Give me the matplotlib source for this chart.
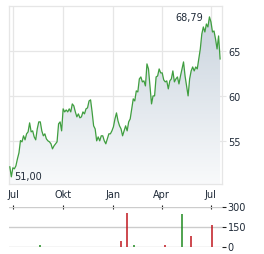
import matplotlib
matplotlib.use("Agg")
import matplotlib.pyplot as plt
import matplotlib.dates as mdates
import numpy as np
import pandas as pd

# closing prices (late Jun 2024 .. mid Jul 2025)
prices = [
    52.11, 51.00, 52.00, 51.89, 52.22, 53.00, 53.67, 55.03, 54.89, 55.56,
    55.11, 55.78, 56.00, 57.00, 56.00, 56.11, 55.44, 55.11, 56.33, 57.11,
    57.11, 56.11, 55.56, 55.78, 55.22, 55.00, 54.89, 54.67, 54.11, 54.44,
    54.67, 54.89, 56.89, 57.11, 56.11, 58.56, 58.22, 58.44, 58.22, 58.56,
    58.22, 59.11, 58.89, 58.22, 57.67, 58.00, 57.56, 57.67, 58.22, 58.00,
    58.56, 58.67, 59.44, 59.56, 58.22, 56.67, 56.33, 55.00, 55.44, 55.00,
    55.56, 55.56, 55.00, 54.67, 55.22, 55.78, 55.78, 56.11, 56.56, 57.44,
    58.11, 57.22, 56.67, 56.33, 55.56, 56.11, 56.67, 56.11, 57.11, 57.44,
    58.56, 59.67, 59.44, 60.56, 60.44, 61.89, 62.11, 61.56, 61.67, 61.11,
    63.56, 63.00, 61.11, 59.11, 60.00, 60.00, 62.11, 62.22, 63.00, 62.56,
    62.56, 61.78, 61.56, 61.67, 60.78, 61.67, 61.89, 62.78, 61.56, 61.89,
    62.11, 61.33, 62.22, 63.00, 63.78, 62.22, 61.11, 60.00, 61.89, 62.78,
    63.22, 62.78, 63.22, 63.00, 64.11, 65.22, 66.89, 67.67, 67.11, 68.00,
    67.67, 68.79, 68.22, 67.11, 67.22, 66.33, 65.22, 66.67, 64.11,
]
start_date = "2024-06-25"
end_date = "2025-07-18"

vol_dates = ["2024-08-20", "2025-01-17", "2025-01-27", "2025-02-10",
             "2025-04-07", "2025-05-08", "2025-05-26", "2025-07-03"]
vol_values = [15, 42, 255, 12, 10, 242, 80, 162]
vol_up = [True, False, False, True, False, True, False, False]

month_ticks = ["2024-07-01", "2024-10-01", "2025-01-01", "2025-04-01", "2025-07-01"]
month_labels = ["Jul", "Okt", "Jan", "Apr", "Jul"]
price_ticks = [55, 60, 65]
vol_ticks = [0, 150, 300]

dates = pd.date_range(start_date, end_date, periods=len(prices))
prices = np.array(prices)
xlim = (pd.Timestamp("2024-06-23 12:00"), pd.Timestamp("2025-07-21 12:00"))

txt = "#1f2a38"
grid = "#e6e6e6"
line_green = "#3f9e3f"

fig = plt.figure(figsize=(2.64, 2.55), dpi=100)
ax = fig.add_axes([9 / 264, 1 - 185 / 255, 213 / 264, 178 / 255])
axv = fig.add_axes([9 / 264, 1 - 247.5 / 255, 213 / 264, 40 / 255])

ylo, yhi = 50.2, 70.0
ax.set_xlim(xlim)
ax.set_ylim(ylo, yhi)

# gradient fill below the line
grad = np.linspace(0, 1, 256).reshape(-1, 1)
top_c = np.array([0.79, 0.83, 0.87])
bot_c = np.array([0.975, 0.98, 0.985])
rgb = top_c + (bot_c - top_c) * grad[:, :, None] * np.ones((1, 1, 3))
x0, x1 = mdates.date2num(xlim[0]), mdates.date2num(xlim[1])
poly = ax.fill_between(dates, prices, ylo, color="none", lw=0)
im = ax.imshow(rgb, aspect="auto", extent=[x0, x1, ylo, 68.8],
               origin="upper", zorder=1)
im.set_clip_path(poly.get_paths()[0], transform=ax.transData)
ax.set_xlim(xlim)
ax.set_ylim(ylo, yhi)

ax.plot(dates, prices, color=line_green, lw=0.9, zorder=3)

ax.set_xticks(pd.to_datetime(month_ticks))
ax.set_xticklabels(month_labels)
ax.set_yticks(price_ticks)
ax.yaxis.tick_right()
ax.grid(True, color=grid, lw=0.9, zorder=0)
ax.set_axisbelow(True)
for s in ax.spines.values():
    s.set_color(grid)
    s.set_linewidth(0.9)
ax.tick_params(axis="x", length=0, pad=3.5, labelsize=7, labelcolor=txt)
ax.tick_params(axis="y", length=3, color=grid, pad=1.5, labelsize=7, labelcolor=txt)

imax = int(np.argmax(prices))
imin = int(np.argmin(prices))
fmt = lambda v: f"{v:.2f}".replace(".", ",")
ax.annotate(fmt(prices[imax]), (dates[imax], prices[imax]), xytext=(-4.5, 0),
            textcoords="offset points", ha="right", va="center",
            fontsize=7, color=txt)
ax.annotate(fmt(prices[imin]), (dates[imin], prices[imin]), xytext=(2, 0.8),
            textcoords="offset points", ha="left", va="center",
            fontsize=7, color=txt)

# volume panel
axv.set_xlim(xlim)
axv.set_ylim(0, 300)
vcols = ["#1f8a1f" if u else "#c0161e" for u in vol_up]
axv.vlines(pd.to_datetime(vol_dates), 0, vol_values, colors=vcols, lw=1.1,
           zorder=3)
for s in axv.spines.values():
    s.set_visible(False)
axv.set_yticks(vol_ticks)
axv.yaxis.tick_right()
axv.yaxis.grid(True, color="#cccccc", lw=1, zorder=0)
axv.set_xticks(pd.to_datetime(month_ticks))
axv.xaxis.tick_top()
axv.tick_params(axis="x", direction="inout", length=3, width=0.8,
                color="#222222", labeltop=False)
axv.tick_params(axis="y", length=3, width=0.8, color="#222222", pad=1,
                labelsize=7, labelcolor=txt)

fig.savefig("out.png", dpi=100)
